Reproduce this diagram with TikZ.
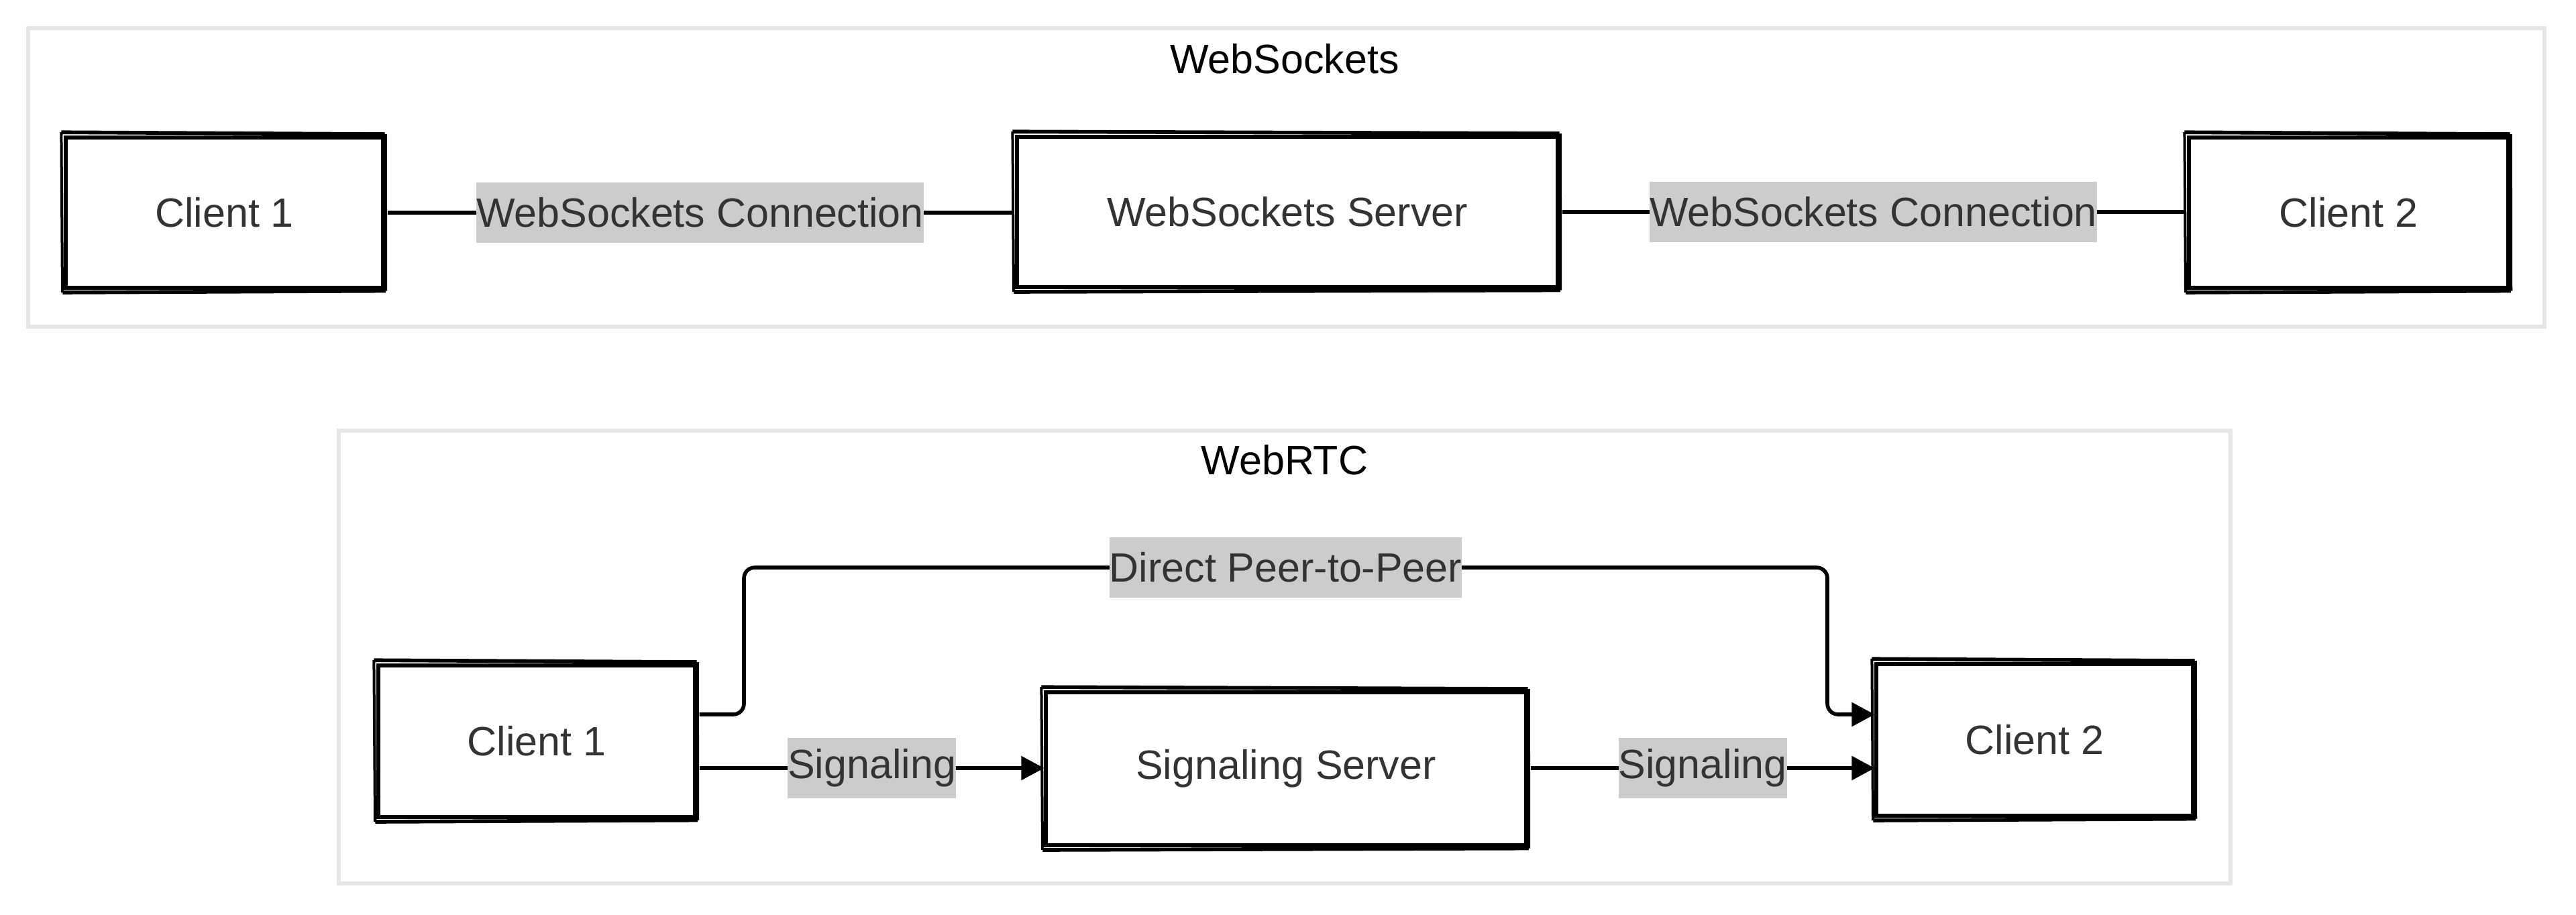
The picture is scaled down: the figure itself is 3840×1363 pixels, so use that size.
\documentclass[tikz,border=0pt]{standalone}
\usepackage{fontspec}
\setmainfont{Liberation Sans}
\usetikzlibrary{arrows.meta}
\definecolor{txt}{HTML}{333333}
\definecolor{labfill}{HTML}{CCCCCC}
\definecolor{framec}{HTML}{E6E6E6}
\newcommand\roughedges[1]{%
  \draw[skline] ([xshift=-1pt,yshift=1.3pt]#1.north west) -- ([yshift=0.6pt]#1.north east);
  \draw[skline] ([xshift=-0.5pt,yshift=-1.1pt]#1.south west) -- ([xshift=0.3pt,yshift=-0.5pt]#1.south east);
  \draw[skline, line width=1pt] ([xshift=-1pt,yshift=1.3pt]#1.north west) -- ([xshift=-0.6pt,yshift=-1.1pt]#1.south west);
  \draw[skline, line width=1pt] ([xshift=0.3pt,yshift=0.6pt]#1.north east) -- ([xshift=0.4pt,yshift=-0.5pt]#1.south east);
}
\begin{document}
\begin{tikzpicture}[x=0.25pt,y=-0.25pt,
  font=\fontsize{15.25pt}{18pt}\selectfont,
  box/.style={draw=black, line width=1.3pt, fill=white, text=txt, inner sep=0pt},
  skline/.style={draw=black, line width=1.4pt},
  lab/.style={fill=labfill, text=txt, inner xsep=0pt, inner ysep=0pt, minimum height=22.5pt, sharp corners},
  conn/.style={line width=1.4pt, draw=black},
  arr/.style={conn, -{Triangle[length=8.5pt,width=8.75pt]}},
  frame/.style={draw=framec, line width=1.3pt, inner sep=0pt},
  title/.style={text=black}]
\useasboundingbox (0,0) rectangle (3840,1363);

% frames
\node[frame, minimum width=937.75pt, minimum height=111.25pt] (fws) at (1917.5,264.5) {};
\node[title] (tws) at (1915,88) {WebSockets};
\node[frame, minimum width=705pt, minimum height=168.75pt] (frtc) at (1915,979.5) {};
\node[title] (trtc) at (1915,686) {WebRTC};

% WebSockets row
\node[box, minimum width=118.25pt, minimum height=56pt] (c1t) at (334.5,317) {Client 1};
\node[box, minimum width=201.5pt, minimum height=56pt] (wss) at (1919,316) {WebSockets Server};
\node[box, minimum width=119pt, minimum height=56pt] (c2t) at (3501,317) {Client 2};
\roughedges{c1t}\roughedges{wss}\roughedges{c2t}

\draw[conn] ([xshift=1pt]c1t.east) -- node[lab]{WebSockets Connection} ([xshift=-1pt]c1t.east -| wss.west);
\draw[conn] ([xshift=1pt]wss.east) -- node[lab]{WebSockets Connection} ([xshift=-1pt]wss.east -| c2t.west);

% WebRTC row
\node[box, minimum width=118pt, minimum height=56.5pt] (c1b) at (800,1105) {Client 1};
\node[box, minimum width=179pt, minimum height=57pt] (ss) at (1917,1146) {Signaling Server};
\node[box, minimum width=118pt, minimum height=56.5pt] (c2b) at (3033,1103) {Client 2};
\roughedges{c1b}\roughedges{ss}\roughedges{c2b}

\coordinate (pA) at (1109,846);
\coordinate (pB) at (2724,846);
\draw[arr, rounded corners=4pt] ([xshift=1pt,yshift=10pt]c1b.east) -| (pA) -- node[lab]{Direct Peer-to-Peer} (pB) |- ([yshift=9.5pt]c2b.west);

\draw[arr] ([xshift=1pt,yshift=-10pt]c1b.east) -- node[lab]{Signaling} ([yshift=-10pt]c1b.east -| ss.west);
\draw[arr] ([xshift=1pt,yshift=-10pt]c1b.east -| ss.east) -- node[lab]{Signaling} ([yshift=-10pt]c1b.east -| c2b.west);
\end{tikzpicture}
\end{document}
